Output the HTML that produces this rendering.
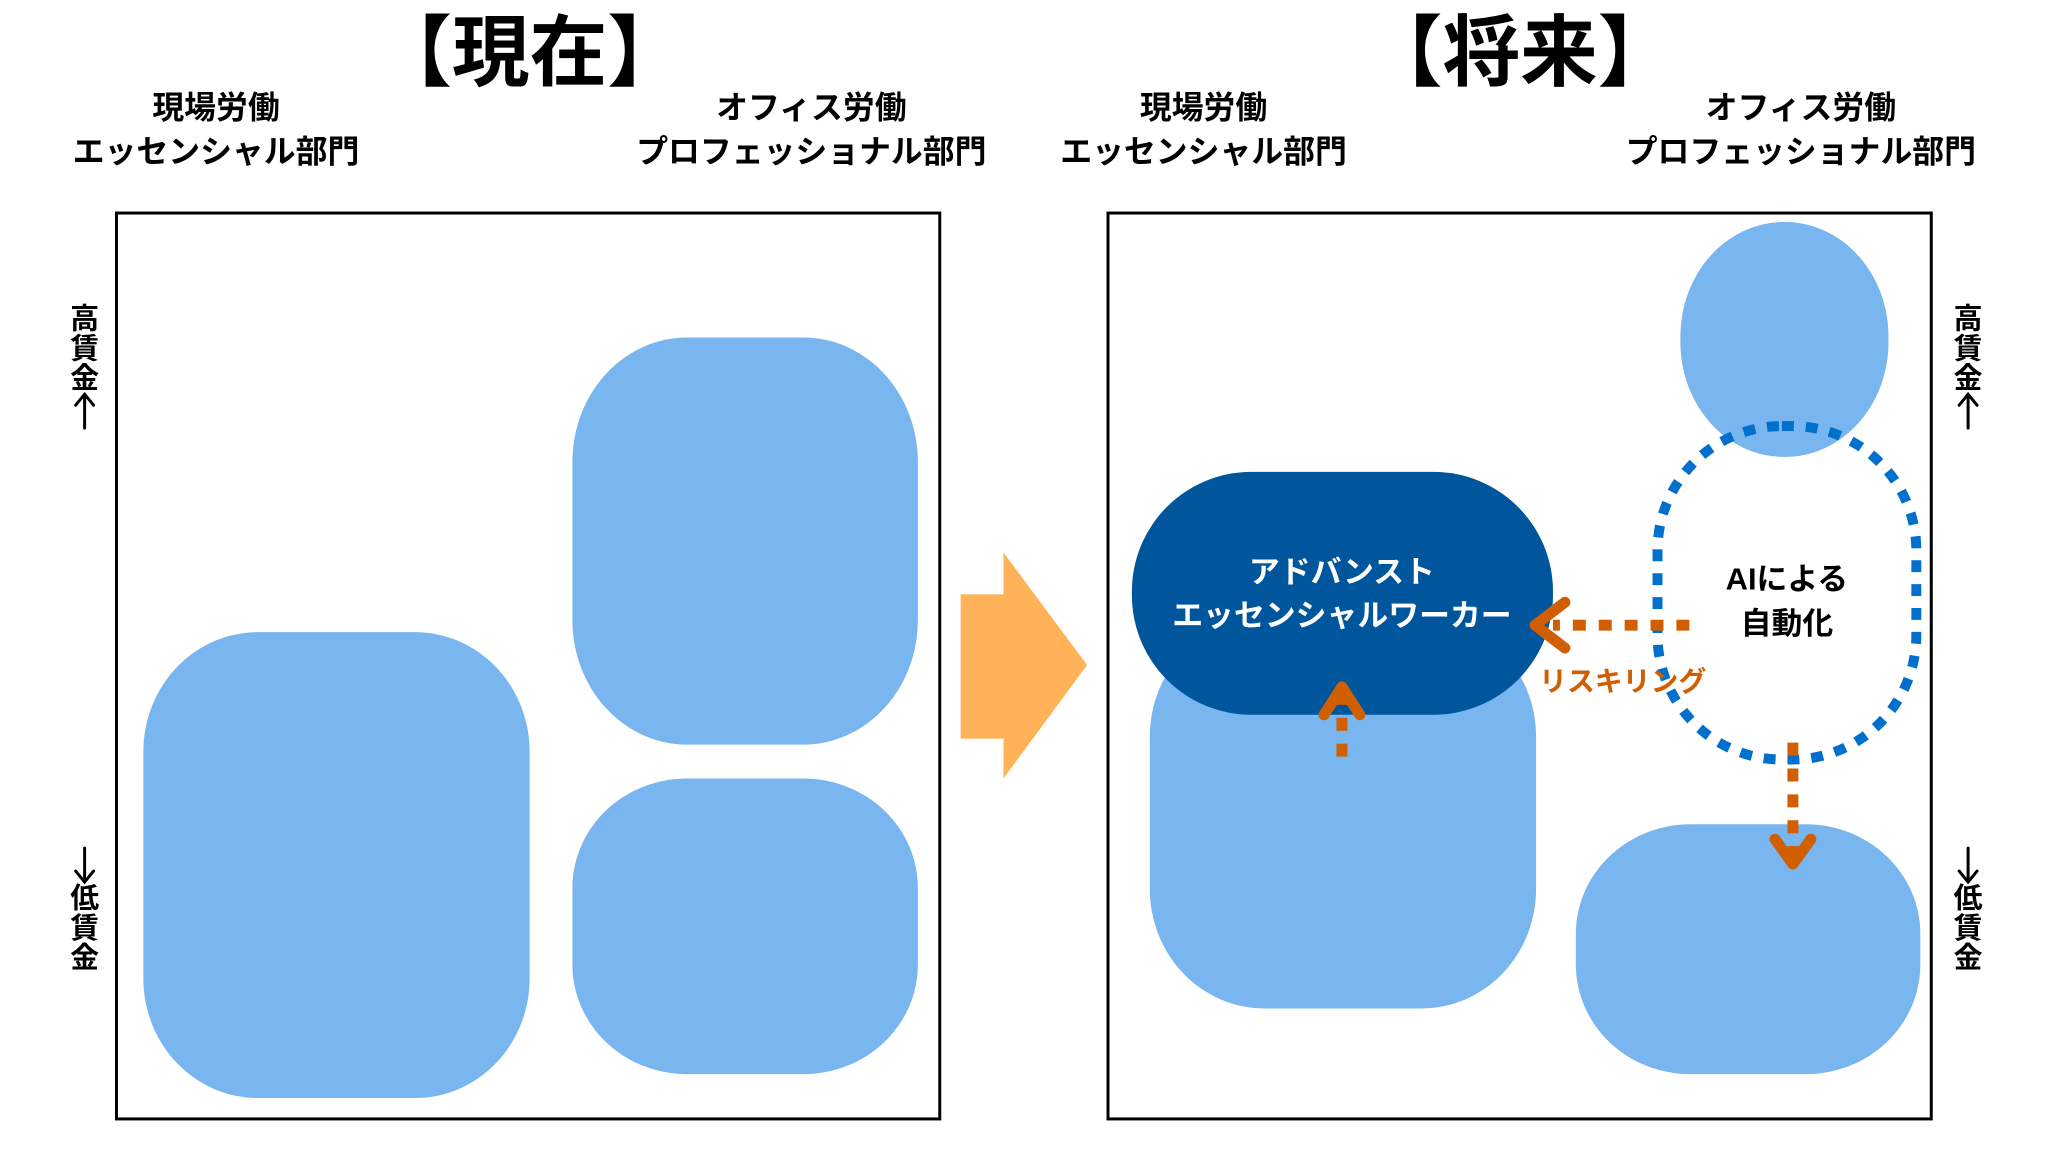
<!DOCTYPE html>
<html><head><meta charset="utf-8"><style>
html,body{margin:0;padding:0;background:#fff}
svg{display:block}
text{font-family:"Liberation Sans","Noto Sans CJK JP",sans-serif;font-weight:bold}
</style></head><body>
<svg width="2048" height="1151" viewBox="0 0 2048 1151" xmlns="http://www.w3.org/2000/svg">
<g transform="scale(0.9955)">
<text x="532" y="80" font-size="78" text-anchor="middle">【現在】</text>
<text x="1527" y="80" font-size="78" text-anchor="middle">【将来】</text>
<g font-size="32" text-anchor="middle">
<text x="217" y="119">現場労働</text>
<text x="217" y="163">エッセンシャル部門</text>
<text x="815" y="119">オフィス労働</text>
<text x="815" y="163">プロフェッショナル部門</text>
<text x="1209" y="119">現場労働</text>
<text x="1209" y="163">エッセンシャル部門</text>
<text x="1809" y="119">オフィス労働</text>
<text x="1809" y="163">プロフェッショナル部門</text>
</g>
<g font-size="29" text-anchor="middle">
<text x="85" y="330">高</text><text x="85" y="360">賃</text><text x="85" y="390">金</text>
<text x="85" y="912">低</text><text x="85" y="942">賃</text><text x="85" y="972">金</text>
<text x="1977" y="330">高</text><text x="1977" y="360">賃</text><text x="1977" y="390">金</text>
<text x="1977" y="912">低</text><text x="1977" y="942">賃</text><text x="1977" y="972">金</text>
</g>
<g stroke="#000" stroke-width="3" fill="none" stroke-linecap="round">
<path d="M85 430V398M76 407L85 396L94 407"/>
<path d="M85 852V884M76 875L85 886L94 875"/>
<path d="M1977 430V398M1968 407L1977 396L1986 407"/>
<path d="M1977 852V884M1968 875L1977 886L1986 875"/>
</g>
<rect x="117" y="214" width="827" height="910" fill="none" stroke="#000" stroke-width="3"/>
<rect x="1113" y="214" width="827" height="910" fill="none" stroke="#000" stroke-width="3"/>
<rect x="144" y="635" width="388" height="468" rx="115" ry="120" fill="#79B5EE"/>
<rect x="575" y="339" width="347" height="409" rx="115" ry="125" fill="#79B5EE"/>
<rect x="575" y="782" width="347" height="297" rx="115" ry="110" fill="#79B5EE"/>
<rect x="965" y="597" width="46" height="145" fill="#FFB257"/>
<polygon points="1008,555 1092,668 1008,782" fill="#FFB257"/>
<rect x="1155" y="620" width="388" height="393" rx="115" ry="120" fill="#79B5EE"/>
<rect x="1137" y="474" width="423" height="244" rx="120" ry="120" fill="#00569C"/>
<rect x="1688" y="223" width="209" height="236" rx="104" ry="115" fill="#79B5EE"/>
<rect x="1583" y="828" width="346" height="251" rx="115" ry="110" fill="#79B5EE"/>
<rect x="1665" y="428" width="260" height="335" rx="125" ry="125" fill="none" stroke="#0070CC" stroke-width="10" stroke-dasharray="12 12"/>
<g font-size="31" text-anchor="middle">
<text x="1348" y="585" fill="#fff">アドバンスト</text>
<text x="1348" y="629" fill="#fff">エッセンシャルワーカー</text>
<text x="1795" y="592">AIによる</text>
<text x="1795" y="637">自動化</text>
<text x="1630" y="694" fill="#D15E00" font-size="28">リスキリング</text>
</g>
<g stroke="#D15E00" fill="none">
<line x1="1697" y1="628" x2="1560" y2="628" stroke-width="11" stroke-dasharray="13 13"/>
<polyline points="1572,605 1542,628 1572,651" stroke-width="11" stroke-linecap="round" stroke-linejoin="round"/>
<line x1="1348" y1="760" x2="1348" y2="700" stroke-width="11" stroke-dasharray="13 13"/>
<polyline points="1330,718 1348,690 1366,718" stroke-width="11" stroke-linecap="round" stroke-linejoin="round"/>
<line x1="1801" y1="746" x2="1801" y2="860" stroke-width="11" stroke-dasharray="13 13"/>
<polyline points="1783,843 1801,868 1819,843" stroke-width="11" stroke-linecap="round" stroke-linejoin="round"/>
</g>
</g>
</svg>
</body></html>
